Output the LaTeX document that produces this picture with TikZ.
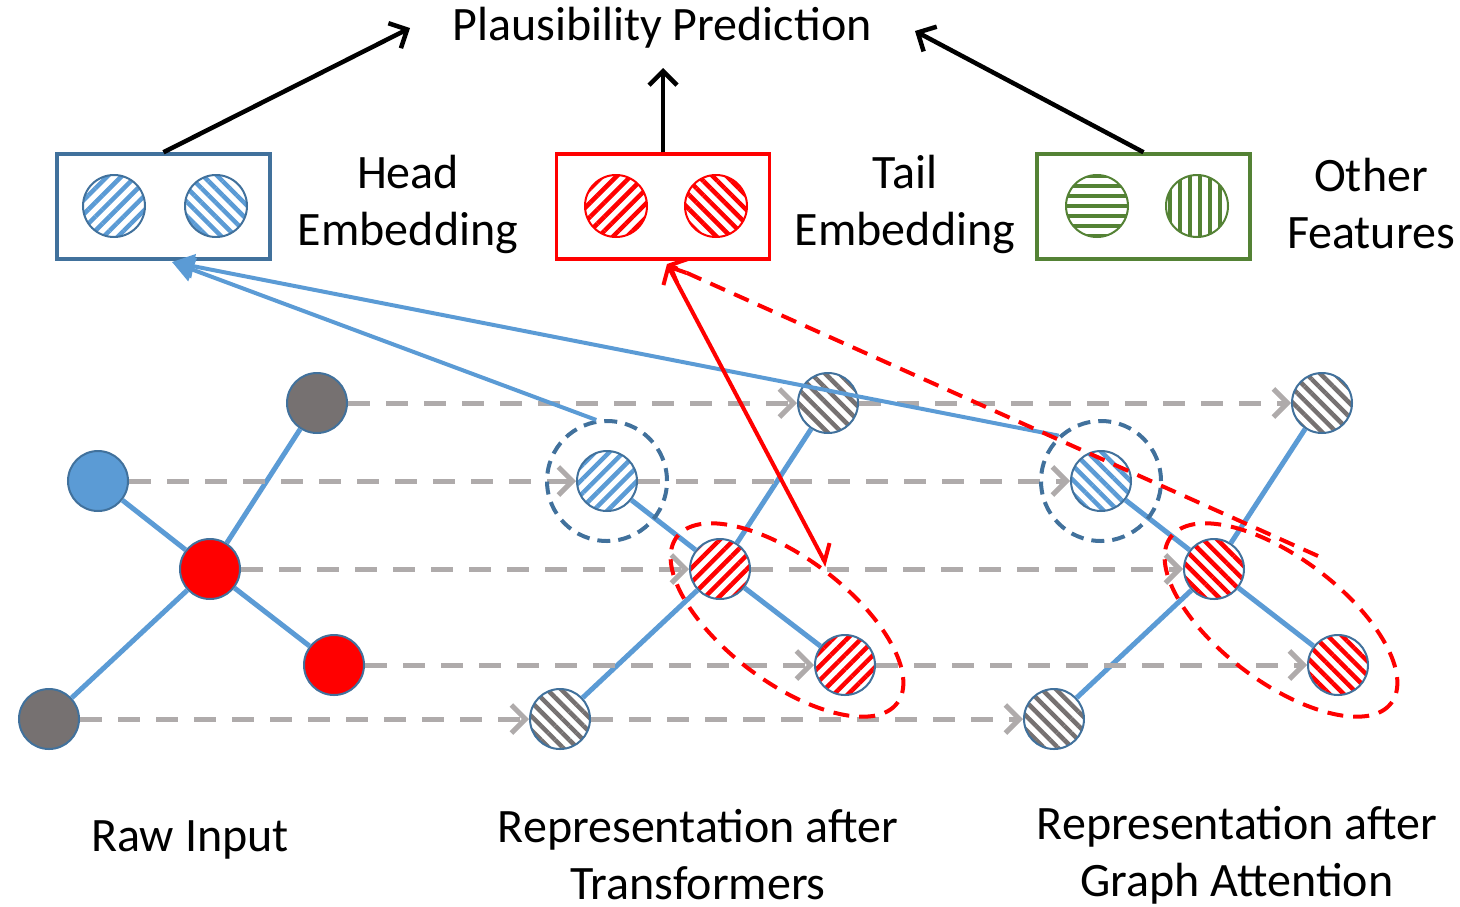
\documentclass[tikz,border=0pt]{standalone}
\usepackage{fontspec}
\setmainfont{Carlito}
\usetikzlibrary{arrows.meta,patterns.meta}

\definecolor{nodeblue}{HTML}{5B9BD5}
\definecolor{rimblue}{HTML}{41719C}
\definecolor{nodegray}{HTML}{767171}
\definecolor{flowgray}{HTML}{AFABAB}
\definecolor{featgreen}{HTML}{548235}

\tikzset{
    lbl/.style={font=\fontsize{48}{57}\selectfont, align=center, inner sep=0},
    featbox/.style={draw, line width=3.5, minimum width=213, minimum height=105, inner sep=0},
    feat/.style={circle, minimum size=62, inner sep=0, line width=2},
    graphnode/.style={circle, draw=rimblue, line width=2, minimum size=60, inner sep=0},
    stripes/.style 2 args={preaction={fill=white}, pattern={Lines[angle=#1, distance=10pt, line width=4.5pt]}, pattern color=#2},
    edge/.style={nodeblue, line width=5},
    flow/.style={flowgray, line width=5, dash pattern=on 22pt off 16pt, -{Straight Barb[length=14pt, width=28pt]}},
    ring/.style={circle, draw=rimblue, line width=4, dash pattern=on 13pt off 8pt, minimum size=120, inner sep=0},
    redloop/.style={red, line width=4, dash pattern=on 16pt off 10pt},
    up/.style={black, line width=4.5, -{Straight Barb[length=14pt, width=28pt]}}
}

\begin{document}
\begin{tikzpicture}[x=1pt, y=-1pt]
    \useasboundingbox (0,0) rectangle (1460,906);

    % prediction
    \node[lbl] (pred) at (662,28) {Plausibility Prediction};
    \coordinate (predl) at (410,28);
    \coordinate (predr) at (915,31);

    % embedding boxes
    \node[featbox, draw=rimblue] (headbox) at (163.5,206.5) {};
    \node[featbox, draw=red] (tailbox) at (663,206.5) {};
    \node[featbox, draw=featgreen] (otherbox) at (1143.5,206.5) {};

    \node[feat, draw=rimblue, stripes={45}{nodeblue}] (head1) at (114,206) {};
    \node[feat, draw=rimblue, stripes={-45}{nodeblue}] (head2) at (216,206) {};
    \node[feat, draw=red, stripes={45}{red}] (tail1) at (616,206) {};
    \node[feat, draw=red, stripes={-45}{red}] (tail2) at (716,206) {};
    \node[feat, draw=featgreen, stripes={0}{featgreen}] (other1) at (1097,206) {};
    \node[feat, draw=featgreen, stripes={90}{featgreen}] (other2) at (1197,206) {};

    \node[lbl] (headtxt) at (408,204) {Head\\Embedding};
    \node[lbl] (tailtxt) at (905,204) {Tail\\Embedding};
    \node[lbl] (othertxt) at (1371,204) {Other\\Features};

    \draw[up] (headbox.north) -- (predl);
    \draw[up] (tailbox.north) -- (tailbox.north |- 0,68);
    \draw[up] (otherbox.north) -- (predr);

    % raw input
    \node[graphnode, fill=nodegray] (agray1) at (317,403) {};
    \node[graphnode, fill=nodeblue] (ablue) at (98,481) {};
    \node[graphnode, fill=red] (ared1) at (210,569) {};
    \node[graphnode, fill=red] (ared2) at (334,665) {};
    \node[graphnode, fill=nodegray] (agray2) at (49,719) {};

    % after transformers
    \node[graphnode, stripes={-45}{nodegray}] (tgray1) at (828,403) {};
    \node[graphnode, stripes={45}{nodeblue}] (tblue) at (607,481) {};
    \node[graphnode, stripes={45}{red}] (tred1) at (720,569) {};
    \node[graphnode, stripes={45}{red}] (tred2) at (845,665) {};
    \node[graphnode, stripes={-45}{nodegray}] (tgray2) at (560,719) {};

    % after graph attention
    \node[graphnode, stripes={-45}{nodegray}] (ggray1) at (1322,403) {};
    \node[graphnode, stripes={-45}{nodeblue}] (gblue) at (1101,481) {};
    \node[graphnode, stripes={-45}{red}] (gred1) at (1214,569) {};
    \node[graphnode, stripes={-45}{red}] (gred2) at (1338,665) {};
    \node[graphnode, stripes={-45}{nodegray}] (ggray2) at (1054,719) {};

    % graph edges
    \foreach \col in {a,t,g} {
        \draw[edge] (\col blue) -- (\col red1);
        \draw[edge] (\col red1) -- (\col gray1);
        \draw[edge] (\col red1) -- (\col red2);
        \draw[edge] (\col red1) -- (\col gray2);
    }

    % copies to the next stage
    \foreach \n in {gray1,blue,red1,red2,gray2} {
        \draw[flow] (a\n) -- (t\n);
        \draw[flow] (t\n) -- (g\n);
    }

    % head and tail groups
    \node[ring] (tring) at (tblue) {};
    \node[ring] (gring) at (gblue) {};
    \draw[redloop, rotate around={-37:(787,620)}] (787,620) ellipse [x radius=138, y radius=62];
    \draw[redloop, rotate around={-37:(1281,620)}] (1281,620) ellipse [x radius=138, y radius=62];

    % to the embeddings
    \coordinate (headin) at (172,262);
    \coordinate (tailin) at (667,264);
    \coordinate (tloop) at (827,566);
    \coordinate (gloop) at (1318,556);
    \draw[nodeblue, line width=4, -{Triangle[length=22pt, width=24pt]}] (tring.100) -- (headin);
    \draw[nodeblue, line width=4, -{Triangle[length=22pt, width=24pt]}] (gring.133) -- (headin);
    \draw[red, line width=4, {Straight Barb[harpoon, length=14pt, width=26pt]}-{Straight Barb[length=14pt, width=26pt]}] (tloop) -- (tailin);
    \draw[redloop, -{Straight Barb[length=14pt, width=26pt]}] (gloop) -- (tailin);

    % captions
    \node[lbl] (rawtxt) at (190,840) {Raw Input};
    \node[lbl] (transtxt) at (698,855) {Representation after\\Transformers};
    \node[lbl] (gattxt) at (1237,855) {Representation after\\Graph Attention};
\end{tikzpicture}
\end{document}
